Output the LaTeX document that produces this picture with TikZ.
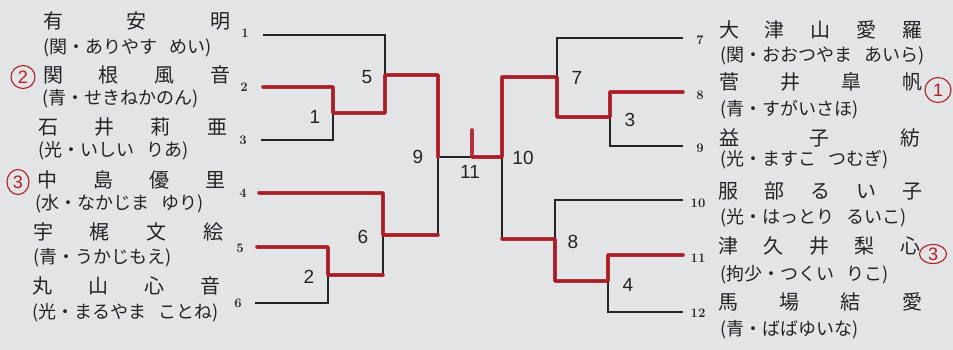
\documentclass[tikz,border=0pt]{standalone}
\usepackage{fontspec}
\usetikzlibrary{shapes.geometric}
\newfontfamily\jp{Noto Sans CJK JP}
\newfontfamily\numf{Liberation Sans}
\definecolor{paper}{RGB}{226,228,229}
\definecolor{ink}{RGB}{35,35,35}
\definecolor{redpen}{RGB}{178,30,40}
\begin{document}
\begin{tikzpicture}[x=1pt,y=-1pt,
  br/.style={draw=ink,line width=1.6pt},
  win/.style={draw=redpen,line width=3.6pt,line cap=round,line join=round,opacity=0.9},
  nm/.style={anchor=west,inner sep=0pt,font=\jp\fontsize{20}{20}\selectfont,text=ink},
  kn/.style={anchor=west,inner sep=0pt,font=\jp\fontsize{18}{18}\selectfont,text=ink},
  sl/.style={inner sep=0pt,font=\bfseries\fontsize{13}{13}\selectfont,text=ink},
  mt/.style={inner sep=0pt,font=\numf\fontsize{19}{19}\selectfont,text=ink},
  rc/.style={ellipse,draw=redpen,line width=1.1pt,inner sep=0pt,text=redpen,font=\numf\fontsize{18}{18}\selectfont}]
\fill[paper] (0,0) rectangle (953,350);
\useasboundingbox (0,0) rectangle (953,350);

% ---- coordinates: left slots
\coordinate (s1) at (263,35);
\coordinate (s2) at (263,87);
\coordinate (s3) at (261,140);
\coordinate (s4) at (259,193);
\coordinate (s5) at (257,247);
\coordinate (s6) at (255,303);
% right slots
\coordinate (s7) at (683,38);
\coordinate (s8) at (683,92);
\coordinate (s9) at (683,146);
\coordinate (s10) at (683,200);
\coordinate (s11) at (683,255);
\coordinate (s12) at (683,312);
% matches
\coordinate (m1t) at (333,87);  \coordinate (m1b) at (333,140); \coordinate (m1o) at (333,113);
\coordinate (m5t) at (385,35);  \coordinate (m5b) at (385,113); \coordinate (m5o) at (385,75);
\coordinate (m2t) at (328,247); \coordinate (m2b) at (328,303); \coordinate (m2o) at (328,275);
\coordinate (m6t) at (383,193); \coordinate (m6b) at (383,275); \coordinate (m6o) at (383,235);
\coordinate (m9t) at (438,75);  \coordinate (m9b) at (438,235); \coordinate (m9o) at (438,157);
\coordinate (m10t) at (502,77); \coordinate (m10b) at (502,239); \coordinate (m10o) at (502,157);
\coordinate (m7t) at (557,38);  \coordinate (m7b) at (557,117); \coordinate (m7o) at (557,77);
\coordinate (m3t) at (610,92);  \coordinate (m3b) at (610,146); \coordinate (m3o) at (610,117);
\coordinate (m8t) at (555,200); \coordinate (m8b) at (555,281); \coordinate (m8o) at (555,239);
\coordinate (m4t) at (608,255); \coordinate (m4b) at (608,312); \coordinate (m4o) at (608,281);
\coordinate (fin) at (472,157);
\coordinate (fintop) at (472,130);

% ---- black bracket
\draw[br] (s2) -- (m1t) -- (m1b) -- (s3);
\draw[br] (s1) -- (m5t) -- (m5b) -- (m1o);
\draw[br] (s5) -- (m2t) -- (m2b) -- (s6);
\draw[br] (s4) -- (m6t) -- (m6b) -- (m2o);
\draw[br] (m5o) -- (m9t) -- (m9b) -- (m6o);
\draw[br] (m9o) -- (m10o);
\draw[br] (s8) -- (m3t) -- (m3b) -- (s9);
\draw[br] (s7) -- (m7t) -- (m7b) -- (m3o);
\draw[br] (s11) -- (m4t) -- (m4b) -- (s12);
\draw[br] (s10) -- (m8t) -- (m8b) -- (m4o);
\draw[br] (m7o) -- (m10t) -- (m10b) -- (m8o);

% ---- red winner lines
\draw[win] (s2) -- (m1t) -- (m1o) -- (m5b) -- (m5o) -- (m9t) -- (m9o);
\draw[win] (s4) -- (m6t) -- (m6o) -- (m9b);
\draw[win] (s5) -- (m2t) -- (m2o) -- (m6b);
\draw[win] (s8) -- (m3t) -- (m3o) -- (m7b) -- (m7o) -- (m10t) -- (m10o) -- (fin) -- (fintop);
\draw[win] (s11) -- (m4t) -- (m4o) -- (m8b) -- (m8o) -- (m10b);

% ---- match numbers
\node[mt] (n5) at (367,77) {5};
\node[mt] (n1) at (315,117) {1};
\node[mt] (n9) at (418,157) {9};
\node[mt] (n6) at (363,237) {6};
\node[mt] (n2) at (309,277) {2};
\node[mt] (n11) at (470,172) {11};
\node[mt] (n10) at (523,158) {10};
\node[mt] (n7) at (577,78) {7};
\node[mt] (n3) at (630,120) {3};
\node[mt] (n8) at (573,242) {8};
\node[mt] (n4) at (628,285) {4};

% ---- slot numbers
\node[sl] (l1) at (245,33) {1};
\node[sl] (l2) at (244,87) {2};
\node[sl] (l3) at (243,140) {3};
\node[sl] (l4) at (243,193) {4};
\node[sl] (l5) at (240,248) {5};
\node[sl] (l6) at (238,303) {6};
\node[sl] (l7) at (700,40) {7};
\node[sl] (l8) at (700,95) {8};
\node[sl] (l9) at (700,148) {9};
\node[sl] (l10) at (698,203) {10};
\node[sl] (l11) at (698,258) {11};
\node[sl] (l12) at (698,313) {12};

% ---- left names
\node[nm] (a1) at (43,21) {\makebox[187pt][s]{有\hfill 安\hfill 明}};
\node[kn] (k1) at (43,48) {(関・ありやす\hspace{0.7em}めい)};
\node[nm] (a2) at (43,75) {\makebox[187pt][s]{関\hfill 根\hfill 風\hfill 音}};
\node[kn] (k2) at (42,99) {(青・せきねかのん)};
\node[nm] (a3) at (38,127) {\makebox[189pt][s]{石\hfill 井\hfill 莉\hfill 亜}};
\node[kn] (k3) at (38,151) {(光・いしい\hspace{0.7em}りあ)};
\node[nm] (a4) at (37,180) {\makebox[188pt][s]{中\hfill 島\hfill 優\hfill 里}};
\node[kn] (k4) at (35,204) {(水・なかじま\hspace{0.7em}ゆり)};
\node[nm] (a5) at (33,232) {\makebox[190pt][s]{宇\hfill 梶\hfill 文\hfill 絵}};
\node[kn] (k5) at (33,258) {(青・うかじもえ)};
\node[nm] (a6) at (32,286) {\makebox[188pt][s]{丸\hfill 山\hfill 心\hfill 音}};
\node[kn] (k6) at (32,313) {(光・まるやま\hspace{0.7em}ことね)};

% ---- right names
\node[nm] (b1) at (719,30) {\makebox[203pt][s]{大\hfill 津\hfill 山\hfill 愛\hfill 羅}};
\node[kn] (j1) at (720,56) {(関・おおつやま\hspace{0.7em}あいら)};
\node[nm] (b2) at (719,82) {\makebox[203pt][s]{菅\hfill 井\hfill 皐\hfill 帆}};
\node[kn] (j2) at (720,110) {(青・すがいさほ)};
\node[nm] (b3) at (719,138) {\makebox[201pt][s]{益\hfill 子\hfill 紡}};
\node[kn] (j3) at (720,160) {(光・ますこ\hspace{0.7em}つむぎ)};
\node[nm] (b4) at (718,191) {\makebox[204pt][s]{服\hfill 部\hfill る\hfill い\hfill 子}};
\node[kn] (j4) at (720,218) {(光・はっとり\hspace{0.7em}るいこ)};
\node[nm] (b5) at (718,246) {\makebox[202pt][s]{津\hfill 久\hfill 井\hfill 梨\hfill 心}};
\node[kn] (j5) at (720,275) {(拘少・つくい\hspace{0.7em}りこ)};
\node[nm] (b6) at (718,302) {\makebox[204pt][s]{馬\hfill 場\hfill 結\hfill 愛}};
\node[kn] (j6) at (720,330) {(青・ばばゆいな)};

% ---- red circled placings
\node[rc,minimum width=24pt,minimum height=23pt] (c2) at (23,77) {2};
\node[rc,minimum width=22pt,minimum height=25pt] (c3l) at (18,182) {3};
\node[rc,minimum width=26pt,minimum height=25pt] (c1) at (938,90) {1};
\node[rc,minimum width=27pt,minimum height=19pt] (c3r) at (933,254) {3};
\end{tikzpicture}
\end{document}
